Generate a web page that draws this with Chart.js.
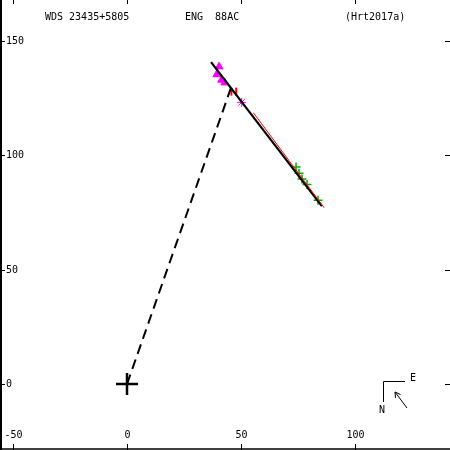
<!DOCTYPE html>
<html>
<head>
<meta charset="utf-8">
<script src="https://cdn.jsdelivr.net/npm/chart.js@4.4.1/dist/chart.umd.min.js"></script>
<style>
  html, body { margin: 0; padding: 0; background: #fff; }
  #wrap { width: 450px; height: 450px; }
</style>
</head>
<body>
<div id="wrap"><canvas id="orbit" width="450" height="450"></canvas></div>
<script>
// tick labels
const xTicks = [-50, 0, 50, 100];
const yTicks = [0, 50, 100, 150];

// orbit arc, line to node, residual trace
const orbitX = [36.8, 85.3];
const orbitY = [140.6, 77.7];
const nodeX = [0, 45.5];
const nodeY = [0, 129.3];
const residX = [55.3, 86.3];
const residY = [118.5, 77.0];

// measurements
const triX = [40.3, 39.3, 41.4, 42.8];
const triY = [138.6, 135.2, 132.8, 131.6];
const starX = [50.2];
const starY = [123.0];
const redX = [45.7, 47.8];
const redY = [127.7, 127.7];
const greenX = [74.0, 75.3, 76.6, 78.8, 83.6];
const greenY = [94.8, 92.1, 89.5, 87.1, 80.3];

const pts = (xs, ys) => xs.map((x, i) => ({ x: x, y: ys[i] }));

const FONT = '10px "DejaVu Sans Mono", monospace';

// frame, ticks, labels, compass
const framePlugin = {
  id: 'frame',
  afterDraw(chart) {
    const ctx = chart.ctx;
    const xs = chart.scales.x, ys = chart.scales.y;
    const W = chart.width, H = chart.height;
    ctx.save();
    ctx.strokeStyle = '#000';
    ctx.fillStyle = '#000';

    // border
    ctx.lineWidth = 2;
    ctx.beginPath();
    ctx.moveTo(1, 0); ctx.lineTo(1, H);
    ctx.stroke();
    ctx.lineWidth = 1.5;
    ctx.beginPath();
    ctx.moveTo(0, H - 1); ctx.lineTo(W, H - 1);
    ctx.stroke();

    ctx.font = FONT;
    ctx.lineWidth = 1;
    ctx.textBaseline = 'middle';

    xTicks.forEach(v => {
      const px = Math.round(xs.getPixelForValue(v)) + 0.5;
      ctx.beginPath();
      ctx.moveTo(px, H); ctx.lineTo(px, H - 6);
      ctx.moveTo(px, 0); ctx.lineTo(px, 4);
      ctx.stroke();
      ctx.textAlign = 'center';
      ctx.fillText(String(v), px, 435);
    });

    yTicks.forEach(v => {
      const py = Math.round(ys.getPixelForValue(v)) + 0.5;
      ctx.beginPath();
      ctx.moveTo(0, py); ctx.lineTo(5, py);
      ctx.moveTo(W, py); ctx.lineTo(W - 5, py);
      ctx.stroke();
      ctx.textAlign = 'left';
      ctx.fillText(String(v), 6, py);
    });

    // header
    ctx.textAlign = 'left';
    ctx.fillText('WDS 23435+5805', 45, 17);
    ctx.fillText('ENG  88AC', 185, 17);
    ctx.fillText('(Hrt2017a)', 345, 17);

    // compass
    ctx.beginPath();
    ctx.moveTo(405, 381.5); ctx.lineTo(383.5, 381.5); ctx.lineTo(383.5, 402);
    ctx.stroke();
    ctx.fillText('E', 410, 378);
    ctx.fillText('N', 379, 410);
    ctx.beginPath();
    ctx.moveTo(407, 408); ctx.lineTo(395, 392);
    ctx.moveTo(395, 392); ctx.lineTo(395.5, 398);
    ctx.moveTo(395, 392); ctx.lineTo(400.5, 394.5);
    ctx.stroke();
    ctx.restore();
  }
};

new Chart(document.getElementById('orbit'), {
  type: 'scatter',
  data: {
    datasets: [
      {
        data: pts(residX, residY), showLine: true, borderColor: '#ff0000',
        borderWidth: 1, pointRadius: 0, order: 1
      },
      {
        data: pts(orbitX, orbitY), showLine: true, borderColor: '#000',
        borderWidth: 2.2, pointRadius: 0, order: 2
      },
      {
        data: pts(nodeX, nodeY), showLine: true, borderColor: '#000',
        borderWidth: 2, borderDash: [10, 6], pointRadius: 0, order: 3
      },
      {
        data: [{ x: 0, y: 0 }], pointStyle: 'cross', pointRadius: 11,
        borderColor: '#000', borderWidth: 2.5, order: 3
      },
      {
        data: pts(redX, redY), pointStyle: 'line', rotation: 90, pointRadius: 4,
        borderColor: '#ff0000', borderWidth: 2, order: 4
      },
      {
        data: pts(triX, triY), pointStyle: 'triangle', pointRadius: 4.5,
        backgroundColor: '#ff00ff', borderColor: '#ff00ff', borderWidth: 1, order: 5
      },
      {
        data: pts(starX, starY), pointStyle: 'star', pointRadius: 4.5,
        borderColor: '#ff00ff', borderWidth: 1, order: 5
      },
      {
        data: pts(greenX, greenY), pointStyle: 'cross', pointRadius: 4.5,
        borderColor: '#00b000', borderWidth: 1.5, order: 5
      }
    ]
  },
  options: {
    responsive: false,
    animation: false,
    layout: { padding: 0, autoPadding: false },
    plugins: { legend: { display: false }, tooltip: { enabled: false } },
    scales: {
      x: { type: 'linear', min: -55.6, max: 141.4, display: false },
      y: { type: 'linear', min: -28.8, max: 167.7, display: false }
    }
  },
  plugins: [framePlugin]
});
</script>
</body>
</html>
